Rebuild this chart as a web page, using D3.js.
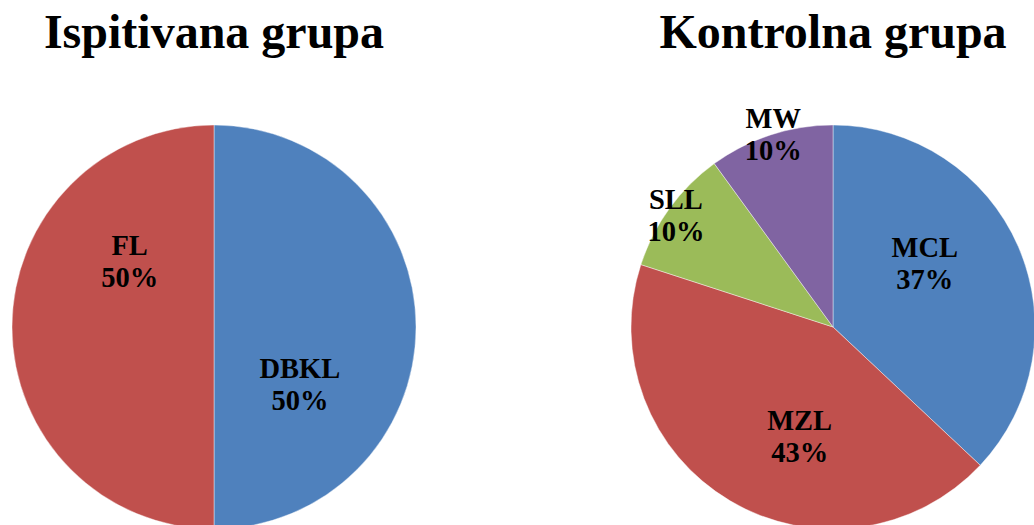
<!DOCTYPE html>
<html lang="en">
<head>
    <meta charset="UTF-8">
    <title>Ispitivana i kontrolna grupa</title>
    <script src="https://d3js.org/d3.v7.min.js"></script>
    <style>
        body { margin: 0; background: #fff; }
        .title { font-family: "Liberation Serif", "Times New Roman", serif; font-weight: bold; font-size: 48px; fill: #000; }
        .label { font-family: "Liberation Serif", "Times New Roman", serif; font-weight: bold; font-size: 28.5px; fill: #000; }
        .slice { stroke: #fff; stroke-width: 0.6px; stroke-opacity: 0.7; }
    </style>
</head>
<body>
    <svg width="1034" height="525"></svg>
    <script>
        // left pie
        const leftTitle = "Ispitivana grupa";
        const leftCategories = ["DBKL", "FL"];
        const leftValues = [50, 50];
        const leftColors = ["#4F81BD", "#C0504D"];
        // label placement: angle (deg, clockwise from top), radius as share of pie radius
        const leftLabelAngle = [123.5, 308];
        const leftLabelRadius = [0.51, 0.53];

        // right pie
        const rightTitle = "Kontrolna grupa";
        const rightCategories = ["MCL", "MZL", "SLL", "MW"];
        const rightValues = [37, 43, 10, 10];
        const rightColors = ["#4F81BD", "#C0504D", "#9BBB59", "#8064A2"];
        const rightLabelAngle = [55, 197, 305.5, 342.8];
        const rightLabelRadius = [0.555, 0.565, 0.955, 1.0];

        const svg = d3.select("svg");
        const radius = 202;
        const cy = 327;

        function drawPie(cx, title, cats, vals, colors, labAng, labRad) {
            const g = svg.append("g").attr("transform", `translate(${cx},${cy})`);

            const pie = d3.pie().sort(null).value(d => d.value);
            const arc = d3.arc().innerRadius(0).outerRadius(radius);
            const data = cats.map((c, i) => ({ name: c, value: vals[i], color: colors[i], a: labAng[i], r: labRad[i] }));

            g.selectAll("path")
                .data(pie(data))
                .enter().append("path")
                .attr("class", "slice")
                .attr("d", arc)
                .attr("fill", d => d.data.color);

            const label = g.selectAll("text.label")
                .data(pie(data))
                .enter().append("text")
                .attr("class", "label")
                .attr("text-anchor", "middle")
                .attr("transform", d => {
                    const t = d.data.a * Math.PI / 180;
                    const rr = d.data.r * radius;
                    return `translate(${rr * Math.sin(t)},${-rr * Math.cos(t)})`;
                });
            label.append("tspan").attr("x", 0).attr("y", -6).text(d => d.data.name);
            label.append("tspan").attr("x", 0).attr("y", 26)
                .text(d => Math.round(d.value) + "%");

            svg.append("text")
                .attr("class", "title")
                .attr("x", cx)
                .attr("y", 48)
                .attr("text-anchor", "middle")
                .text(title);
        }

        drawPie(214, leftTitle, leftCategories, leftValues, leftColors, leftLabelAngle, leftLabelRadius);
        drawPie(833, rightTitle, rightCategories, rightValues, rightColors, rightLabelAngle, rightLabelRadius);
    </script>
</body>
</html>
